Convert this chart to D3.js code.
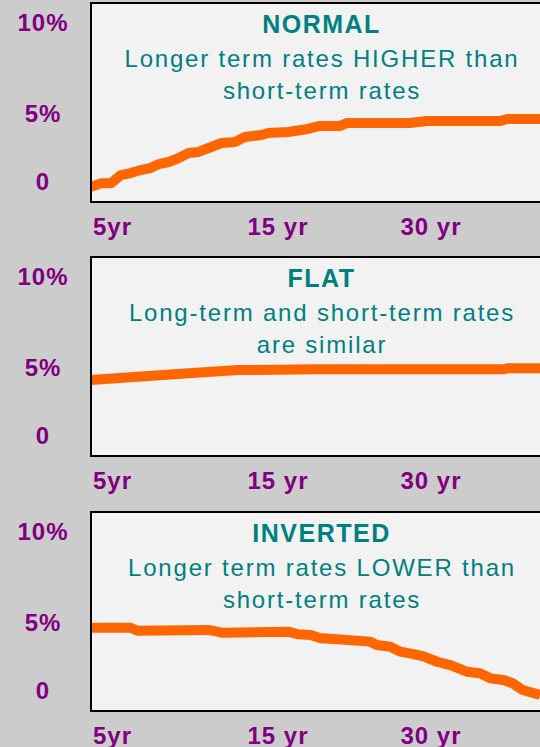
<!DOCTYPE html>
<html>
<head>
<meta charset="utf-8">
<script src="https://cdn.jsdelivr.net/npm/d3@7"></script>
<style>
  body { margin: 0; background: #cccccc; }
  svg { display: block; font-family: "Liberation Sans", Arial, sans-serif; }
</style>
</head>
<body>
<div id="chart"></div>
<script>
const WIDTH = 540, HEIGHT = 747;
const PANEL_LEFT = 91, PANEL_W = 470, PANEL_H = 199;
const PANEL_TOPS = [3, 257, 512];

const COLOR_BG = "#cccccc";
const COLOR_PANEL = "#f2f2f2";
const COLOR_LINE = "#ff6600";
const COLOR_TEXT = "#008080";
const COLOR_AXIS = "#800080";

// --- Data ---
const curveTitles = ["NORMAL", "FLAT", "INVERTED"];
const curveSubtitles = [
    ["Longer term rates HIGHER than", "short-term rates"],
    ["Long-term and short-term rates", "are similar"],
    ["Longer term rates LOWER than", "short-term rates"]
];

const yTicks = [0, 5, 10];
const yTickLabels = ["0", "5%", "10%"];
const xTicks = [5, 15, 30];
const xTickLabels = ["5yr", "15 yr", "30 yr"];

// maturity (years) and yield (%)
const normalYears = [3.7, 4.3, 4.9, 5.5, 6.1, 6.7, 7.3, 7.8, 8.4, 9.0, 9.6, 10.2, 10.8, 11.6, 12.4, 13.0, 14.0, 14.4, 16.0, 17.9, 19.1, 21.1, 21.8, 27.9, 29.6, 36.8, 37.5, 40.7];
const normalRates = [-0.35, -0.1, -0.1, 0.51, 0.66, 0.88, 1.03, 1.32, 1.47, 1.76, 2.13, 2.21, 2.50, 2.87, 2.94, 3.31, 3.46, 3.60, 3.68, 3.90, 4.12, 4.12, 4.34, 4.34, 4.49, 4.49, 4.63, 4.63];

const flatYears = [3.7, 6.5, 9.6, 12.6, 18.9, 21.4, 37.1, 37.5, 40.7];
const flatRates = [4.12, 4.36, 4.61, 4.85, 4.90, 4.90, 4.90, 4.98, 4.98];

const invertedYears = [3.7, 6.1, 6.5, 10.8, 11.6, 16.0, 17.0, 18.2, 19.1, 24.0, 24.7, 26.0, 27.0, 27.9, 29.2, 30.6, 31.9, 33.5, 34.8, 35.8, 37.1, 38.0, 39.0, 40.7];
const invertedRates = [4.65, 4.65, 4.43, 4.49, 4.29, 4.36, 4.17, 4.12, 3.90, 3.63, 3.38, 3.26, 2.89, 2.77, 2.57, 2.15, 1.91, 1.42, 1.30, 0.93, 0.81, 0.57, 0.07, -0.29];

const curves = [
    d3.zip(normalYears, normalRates),
    d3.zip(flatYears, flatRates),
    d3.zip(invertedYears, invertedRates)
];

// Remove any existing SVG
d3.select("#chart").selectAll("*").remove();

const svg = d3.select("#chart")
    .append("svg")
    .attr("width", WIDTH)
    .attr("height", HEIGHT)
    .attr("viewBox", `0 0 ${WIDTH} ${HEIGHT}`);

svg.append("rect")
    .attr("width", WIDTH).attr("height", HEIGHT)
    .attr("fill", COLOR_BG);

// X scale - maturity ticks are not evenly spaced on the original
const x = d3.scaleLinear()
    .domain(xTicks)
    .range([112.5, 278, 431]);

// Y scale - relative to each panel's top edge
const y = d3.scaleLinear()
    .domain(yTicks)
    .range([179, 111, 20]);

const line = d3.line()
    .x(d => x(d[0]))
    .y(d => y(d[1]));

svg.append("defs").append("clipPath")
    .attr("id", "panel-clip")
    .append("rect")
    .attr("x", PANEL_LEFT).attr("y", 0)
    .attr("width", PANEL_W).attr("height", PANEL_H);

curves.forEach((data, i) => {
    const g = svg.append("g")
        .attr("transform", `translate(0,${PANEL_TOPS[i]})`);

    // --- Panel ---
    g.append("rect")
        .attr("x", PANEL_LEFT).attr("y", 0)
        .attr("width", PANEL_W).attr("height", PANEL_H)
        .attr("fill", COLOR_PANEL);

    // --- Titles ---
    g.append("text")
        .attr("x", 321.5)
        .attr("y", 29.5)
        .attr("text-anchor", "middle")
        .attr("fill", COLOR_TEXT)
        .style("font-size", "25px")
        .style("font-weight", "bold")
        .style("letter-spacing", "1.5px")
        .text(curveTitles[i]);

    curveSubtitles[i].forEach((s, j) => {
        g.append("text")
            .attr("x", 322)
            .attr("y", 64 + j * 31.5)
            .attr("text-anchor", "middle")
            .attr("fill", COLOR_TEXT)
            .style("font-size", "24px")
            .style("letter-spacing", "1.8px")
            .text(s);
    });

    // --- Line ---
    g.append("path")
        .datum(data)
        .attr("clip-path", "url(#panel-clip)")
        .attr("fill", "none")
        .attr("stroke", COLOR_LINE)
        .attr("stroke-width", 10)
        .attr("stroke-linejoin", "round")
        .attr("d", line);

    // --- Border ---
    g.append("rect")
        .attr("x", PANEL_LEFT).attr("y", 0)
        .attr("width", PANEL_W).attr("height", PANEL_H)
        .attr("fill", "none")
        .attr("stroke", "#000")
        .attr("stroke-width", 2);

    // --- Axis labels ---
    g.selectAll(".ytick")
        .data(yTicks)
        .join("text")
        .attr("class", "ytick")
        .attr("x", 43)
        .attr("y", d => y(d))
        .attr("dy", "0.35em")
        .attr("text-anchor", "middle")
        .attr("fill", COLOR_AXIS)
        .style("font-size", "24px")
        .style("font-weight", "bold")
        .style("letter-spacing", "1px")
        .text((d, k) => yTickLabels[k]);

    g.selectAll(".xtick")
        .data(xTicks)
        .join("text")
        .attr("class", "xtick")
        .attr("x", d => x(d))
        .attr("y", PANEL_H + 33)
        .attr("text-anchor", "middle")
        .attr("fill", COLOR_AXIS)
        .style("font-size", "24px")
        .style("font-weight", "bold")
        .style("letter-spacing", "1px")
        .text((d, k) => xTickLabels[k]);
});
</script>
</body>
</html>
